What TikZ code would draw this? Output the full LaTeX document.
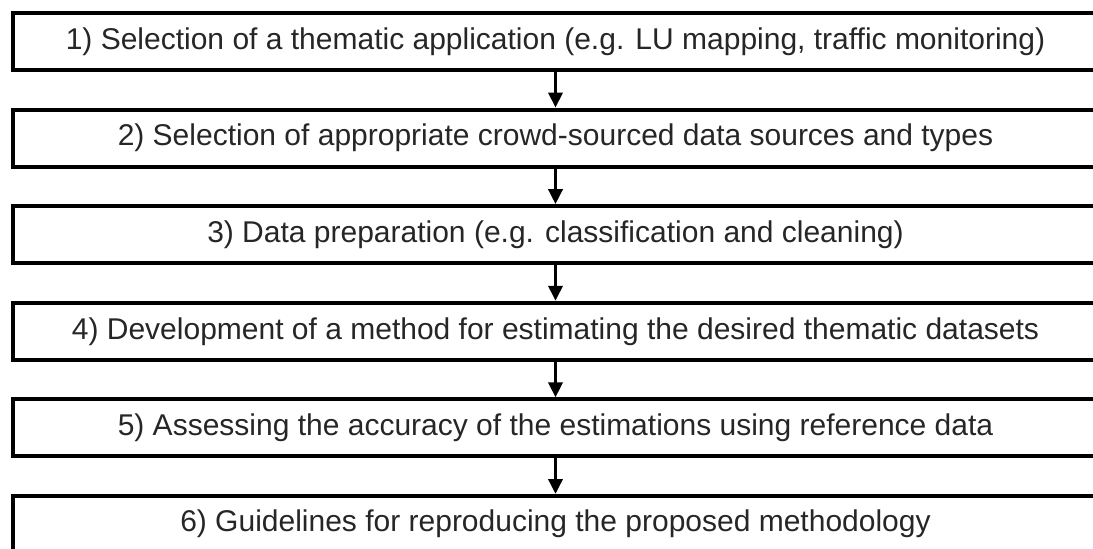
\documentclass[tikz,border=0pt]{standalone}
\usepackage{fontspec}
\setmainfont{Liberation Sans}
\usetikzlibrary{arrows.meta}
\definecolor{txt}{rgb}{0.15,0.15,0.15}
\begin{document}
\begin{tikzpicture}[x=1pt,y=-1pt,
  stepbox/.style={draw=black,line width=4pt,anchor=north west,minimum width=1085pt,minimum height=57pt,inner sep=0pt,text=txt,font=\fontsize{30}{34}\selectfont},
  flowarrow/.style={line width=3.5pt,-{Triangle[length=15pt,width=14pt]}}]
\useasboundingbox (0,0) rectangle (1093,549);
\begin{scope}
\clip (0,0) rectangle (1093,549);
\node[stepbox] (b1) at (11,11) {1) Selection of a thematic application (e.g. LU mapping, traffic monitoring)};
\node[stepbox] (b2) at (11,107.6) {2) Selection of appropriate crowd-sourced data sources and types};
\node[stepbox] (b3) at (11,204.2) {3) Data preparation (e.g. classification and cleaning)};
\node[stepbox] (b4) at (11,300.8) {4) Development of a method for estimating the desired thematic datasets};
\node[stepbox] (b5) at (11,397.4) {5) Assessing the accuracy of the estimations using reference data};
\node[stepbox,minimum height=56pt] (b6) at (11,494) {6) Guidelines for reproducing the proposed methodology};
\draw[flowarrow] (b1.south) -- (b2.north);
\draw[flowarrow] (b2.south) -- (b3.north);
\draw[flowarrow] (b3.south) -- (b4.north);
\draw[flowarrow] (b4.south) -- (b5.north);
\draw[flowarrow] (b5.south) -- (b6.north);
\end{scope}
\end{tikzpicture}
\end{document}
